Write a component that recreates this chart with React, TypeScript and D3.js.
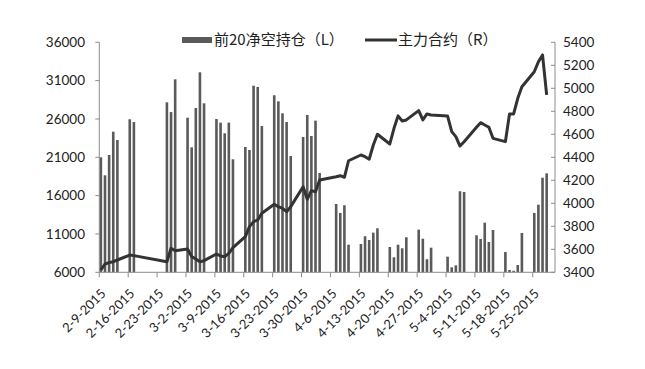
import React from "react";
import * as d3 from "d3";

const tradeDates: string[] = [
  "2015-02-09","2015-02-10","2015-02-11","2015-02-12","2015-02-13","2015-02-16","2015-02-17","2015-02-25","2015-02-26","2015-02-27",
  "2015-03-02","2015-03-03","2015-03-04","2015-03-05","2015-03-06","2015-03-09","2015-03-10","2015-03-11","2015-03-12","2015-03-13",
  "2015-03-16","2015-03-17","2015-03-18","2015-03-19","2015-03-20","2015-03-23","2015-03-24","2015-03-25","2015-03-26","2015-03-27",
  "2015-03-30","2015-03-31",
  "2015-04-01","2015-04-02","2015-04-03","2015-04-07","2015-04-08","2015-04-09","2015-04-10","2015-04-13","2015-04-14","2015-04-15",
  "2015-04-16","2015-04-17","2015-04-20","2015-04-21","2015-04-22","2015-04-23","2015-04-24","2015-04-27","2015-04-28","2015-04-29",
  "2015-04-30",
  "2015-05-04","2015-05-05","2015-05-06","2015-05-07","2015-05-08","2015-05-11","2015-05-12","2015-05-13","2015-05-14","2015-05-15",
  "2015-05-18","2015-05-19","2015-05-20","2015-05-21","2015-05-22","2015-05-25","2015-05-26","2015-05-27","2015-05-28",
];

const netShort: number[] = [
  21000, 18650, 21300, 24340, 23260, 25960, 25600, 28170, 26900, 31170,
  26170, 22300, 27430, 32090, 28040, 26000, 25520, 24130, 25520, 20740,
  22340, 21950, 30340, 30170, 25080, 29090, 28300, 26740, 25600, 21170,
  23650, 26520,
  23780, 25780, 18950, 14910, 13740, 14740, 9600, 9690, 10700, 10210,
  11170, 11740, 9300, 7960, 9600, 9130, 10570, 11560, 10380, 7700,
  9210,
  8040, 6650, 6910, 16570, 16480, 10830, 10340, 12470, 9950, 11520,
  8650, 6300, 6200, 6950, 11130, 13740, 14820, 18340, 18910,
];

const mainContract: number[] = [
  3420, 3472, 3484, 3492, 3507, 3550, 3545, 3492, 3609, 3588,
  3603, 3536, 3516, 3492, 3501, 3559, 3542, 3536, 3565, 3615,
  3710, 3797, 3840, 3855, 3913, 3991, 3971, 3956, 3927, 3971,
  4144, 4035,
  4110, 4101, 4203, 4231, 4240, 4226, 4370, 4420, 4405, 4383,
  4507, 4600, 4516, 4650, 4760, 4716, 4725, 4806, 4725, 4777,
  4768,
  4759, 4623, 4580, 4498, 4536, 4661, 4701, 4681, 4661, 4565,
  4536, 4777, 4777, 4913, 5014, 5144, 5231, 5290, 4942,
];

const leftTicks: number[] = [6000, 11000, 16000, 21000, 26000, 31000, 36000];
const rightTicks: number[] = [3400, 3600, 3800, 4000, 4200, 4400, 4600, 4800, 5000, 5200, 5400];
const weekLabels: string[] = [
  "2-9-2015","2-16-2015","2-23-2015","3-2-2015","3-9-2015","3-16-2015","3-23-2015",
  "3-30-2015","4-6-2015","4-13-2015","4-20-2015","4-27-2015","5-4-2015","5-11-2015","5-18-2015","5-25-2015",
];
const legendBar = "前20净空持仓（L）";
const legendLine = "主力合约（R）";

const W = 645, H = 369;
const plotL = 99.3, plotR = 555, plotT = 42.3, plotB = 272.3;
const DAY0 = Date.UTC(2015, 1, 9);
const dayOf = (s: string) => {
  const [y, m, d] = s.split("-").map(Number);
  return Math.round((Date.UTC(y, m - 1, d) - DAY0) / 86400000);
};

export default function App() {
  const x = d3.scaleLinear().domain([0, 110.4]).range([plotL, plotR]);
  const yL = d3.scaleLinear().domain([6000, 36000]).range([plotB, plotT]);
  const yR = d3.scaleLinear().domain([3400, 5400]).range([plotB, plotT]);
  const off = x(0.38) - x(0);
  const days = tradeDates.map(dayOf);
  const line = d3
    .line<number>()
    .x((_, i) => x(days[i]) + off)
    .y((v) => yR(v));
  const numFont = "Lato, 'Open Sans', sans-serif";
  const cjkFont = "'Noto Sans CJK SC', sans-serif";
  const axisColor = "#8c8c8c";
  return (
    <svg width={W} height={H} style={{ position: "absolute", left: 0, top: 0, background: "#fff" }}>
      <rect x={0} y={0} width={W} height={H} fill="#fff" />
      {/* bars */}
      {netShort.map((v, i) => (
        <rect
          key={"b" + i}
          x={x(days[i]) + off - 1.3}
          y={yL(v)}
          width={2.6}
          height={plotB - yL(v)}
          fill="#5a5a5a"
        />
      ))}
      {/* axes */}
      <line x1={plotL} x2={plotL} y1={plotT} y2={plotB} stroke={axisColor} strokeWidth={1} />
      <line x1={plotR} x2={plotR} y1={plotT} y2={plotB} stroke={axisColor} strokeWidth={1} />
      <line x1={plotL} x2={plotR} y1={plotB} y2={plotB} stroke={axisColor} strokeWidth={1} />
      {leftTicks.map((t) => (
        <g key={"l" + t}>
          <line x1={plotL - 4} x2={plotL} y1={yL(t)} y2={yL(t)} stroke={axisColor} />
          <text x={85} y={yL(t)} dy="0.35em" textAnchor="end" fontFamily={numFont} fontSize={13.5} fill="#222">
            {t}
          </text>
        </g>
      ))}
      {rightTicks.map((t) => (
        <g key={"r" + t}>
          <line x1={plotR - 4} x2={plotR} y1={yR(t)} y2={yR(t)} stroke={axisColor} />
          <text x={563} y={yR(t)} dy="0.35em" textAnchor="start" fontFamily={numFont} fontSize={13.5} fill="#222">
            {t}
          </text>
        </g>
      ))}
      {weekLabels.map((lab, i) => {
        const tx = x(i * 7);
        return (
          <g key={"x" + i}>
            <line x1={tx} x2={tx} y1={plotB} y2={plotB + 5} stroke={axisColor} />
            <text
              transform={`translate(${tx + 4},${plotB + 19}) rotate(-45)`}
              dy="0.35em"
              textAnchor="end"
              fontFamily={numFont}
              fontSize={13}
              fill="#222"
            >
              {lab}
            </text>
          </g>
        );
      })}
      {/* line */}
      <path d={line(mainContract) || ""} fill="none" stroke="#333" strokeWidth={3} strokeLinejoin="round" />
      {/* legend */}
      <rect x={182} y={37} width={30} height={6} fill="#5a5a5a" />
      <text x={214} y={40} dy="0.35em" fontFamily={cjkFont} fontSize={15} fill="#222">
        {legendBar}
      </text>
      <line x1={365} x2={397} y1={40} y2={40} stroke="#333" strokeWidth={3} />
      <text x={398} y={40} dy="0.35em" fontFamily={cjkFont} fontSize={15} fill="#222">
        {legendLine}
      </text>
    </svg>
  );
}
